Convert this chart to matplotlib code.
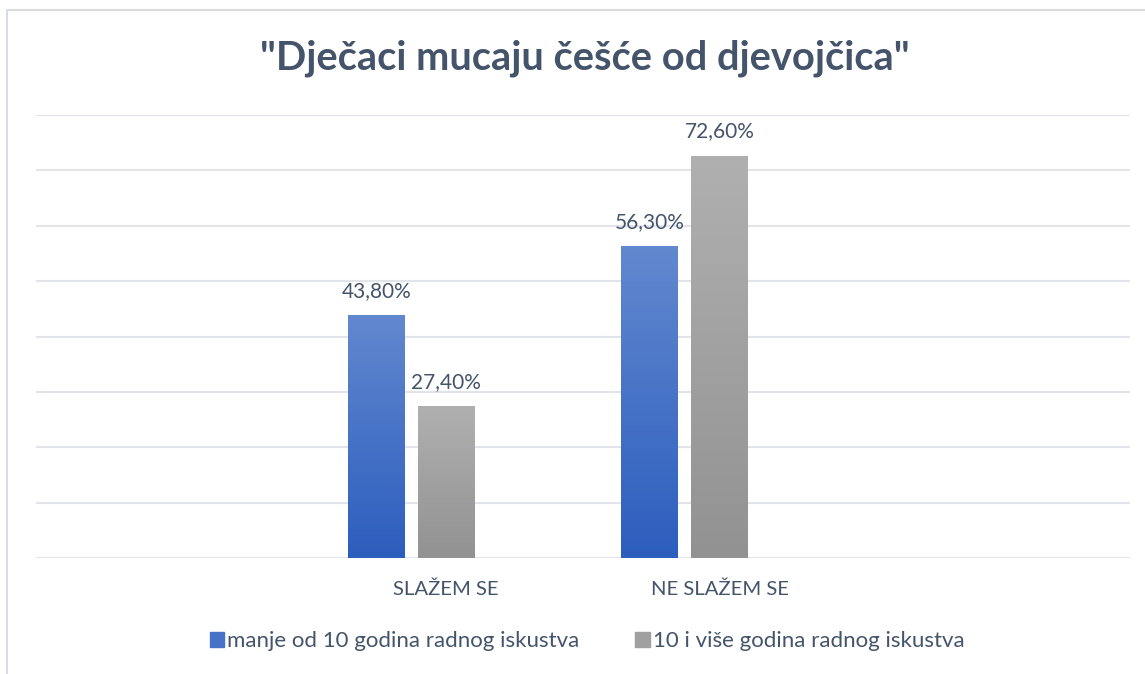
import numpy as np
import matplotlib
matplotlib.use("Agg")
import matplotlib.pyplot as plt
from matplotlib.patches import Rectangle
from matplotlib.colors import LinearSegmentedColormap

plt.rcParams['font.family'] = ['Lato', 'DejaVu Sans']

# --- data ---
categories = ["SLAŽEM SE", "NE SLAŽEM SE"]
series_names = ["manje od 10 godina radnog iskustva", "10 i više godina radnog iskustva"]
manje_10 = [43.8, 56.3]
vise_10 = [27.4, 72.6]
values = [manje_10, vise_10]
title = "\"Dječaci mucaju češće od djevojčica\""

text_col = "#44546A"
grid_col = "#E1E5EA"
grads = [("#6288CF", "#2C5EBE"), ("#B0B0B0", "#929292")]
legend_cols = ["#4673C8", "#A0A0A0"]

W, H = 1145, 674
fig = plt.figure(figsize=(W / 100, H / 100), dpi=100)
fig.patch.set_facecolor("white")

# chart frame (cropped on right and bottom)
fig.add_artist(Rectangle((7 / W, -0.1), 1.2, 1 - 10 / H + 0.1, transform=fig.transFigure,
                         fill=False, edgecolor="#D9DDE2", linewidth=1.5))

ax = fig.add_axes([36 / W, (H - 558) / H, (1130 - 36) / W, (558 - 115) / H])
ax.set_facecolor("none")

# 4 category slots, the two used ones in the middle; 3 series slots, last empty
pos = np.arange(len(categories)) + 1
slot = 0.256
bw = 0.208
ax.set_yticks(np.arange(0, 81, 10))
ax.yaxis.grid(True, color=grid_col, linewidth=1.5)
ax.set_axisbelow(True)
for s in ax.spines.values():
    s.set_visible(False)
ax.tick_params(left=False, bottom=False, labelleft=False, labelbottom=False)

for i, (vals, (c_top, c_bot)) in enumerate(zip(values, grads)):
    cmap = LinearSegmentedColormap.from_list("g%d" % i, [c_bot, c_top])
    xs = pos + (i - 1) * slot
    bars = ax.bar(xs, vals, width=bw, color="none", edgecolor="none", zorder=2)
    for b, v in zip(bars, vals):
        x0 = b.get_x()
        im = ax.imshow(np.linspace(0, 1, 256).reshape(-1, 1), cmap=cmap, origin="lower",
                       extent=[x0, x0 + bw, 0, v], aspect="auto", zorder=2)
        im.set_clip_path(b)
        ax.text(x0 + bw / 2, v + 2.6, ("%.2f%%" % v).replace(".", ","), ha="center",
                va="bottom", fontsize=15, color=text_col)

ax.set_xlim(-0.5, 3.5)
ax.set_ylim(0, 80)

for p, c in zip(pos, categories):
    ax.text(p, -5.7, c, ha="center", va="center", fontsize=14.6, color=text_col)

fig.text(0.511, (H - 58) / H, title, ha="center", va="center", fontsize=28.7,
         fontweight="bold", color=text_col)

# legend
handles = [Rectangle((0, 0), 1, 1, color=c) for c in legend_cols]
leg = fig.legend(handles, series_names, loc="center", bbox_to_anchor=(0.5127, (H - 641) / H),
                 ncol=2, frameon=False, fontsize=16, labelcolor=text_col,
                 handlelength=0.65, handleheight=0.65, handletextpad=0.15, columnspacing=2.5)

fig.savefig("out.png", dpi=100, facecolor="white")
